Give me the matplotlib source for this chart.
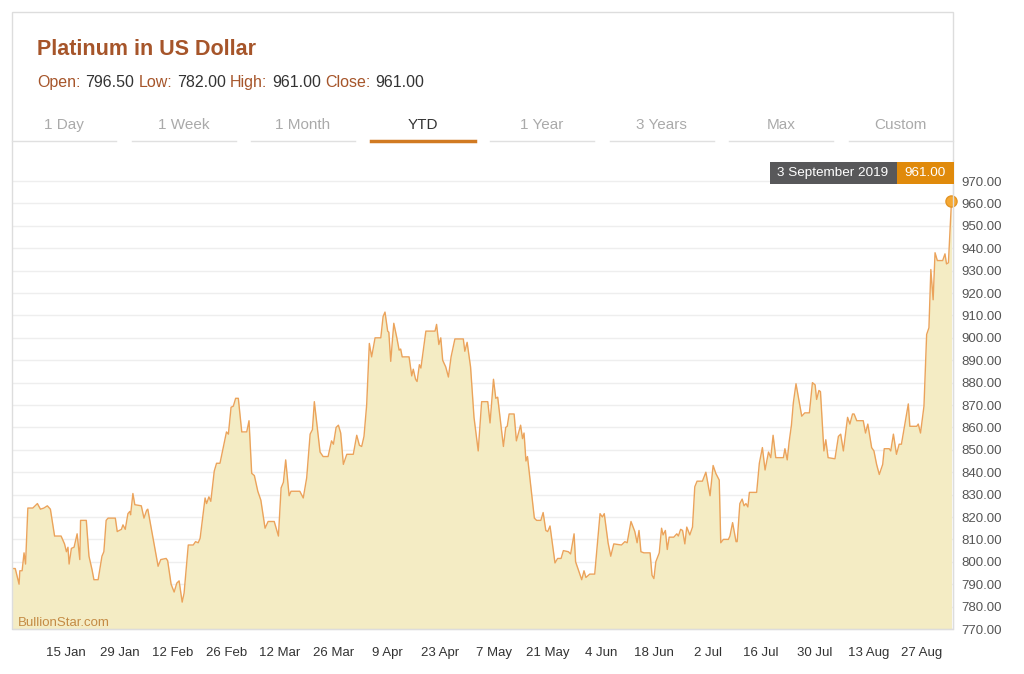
import matplotlib
matplotlib.use("Agg")
import matplotlib.pyplot as plt
import matplotlib.dates as mdates
from matplotlib.patches import Rectangle
from matplotlib.lines import Line2D
import numpy as np
import pandas as pd
from datetime import datetime

plt.rcParams['font.family'] = ['Liberation Sans', 'DejaVu Sans']

W, H = 1024, 674

def fx(x):
    return x / W

def fy(y):
    return 1 - y / H

# days since 1 Jan 2019 (as placed on the chart) and platinum price, USD
days = [0.0, 0.7, 1.7, 1.9, 2.5, 3.0, 3.4, 4.0, 5.3, 6.5,
        7.3, 8.2, 9.1, 9.9, 11.0, 12.7, 13.6, 14.1, 14.5, 14.8,
        15.4, 16.1, 16.9, 17.6, 17.8, 19.3, 20.0, 20.8, 21.3, 22.4,
        23.4, 23.9, 24.5, 25.0, 26.9, 27.4, 28.5, 28.9, 29.5, 30.2,
        30.7, 30.9, 31.5, 32.0, 33.7, 34.4, 35.1, 35.4, 37.2, 38.1,
        38.8, 40.2, 40.6, 41.5, 42.3, 43.0, 43.6, 44.4, 44.9, 46.0,
        47.3, 47.9, 48.6, 49.1, 50.4, 50.8, 51.4, 51.9, 52.8, 53.4,
        54.3, 55.2, 56.0, 56.5, 57.2, 57.8, 58.4, 59.1, 60.0, 61.3,
        61.9, 62.6, 63.3, 64.2, 65.0, 66.1, 66.9, 68.5, 69.6, 70.3,
        70.9, 71.5, 72.4, 72.9, 75.2, 76.1, 77.0, 77.9, 78.5, 79.0,
        80.5, 81.3, 82.6, 83.5, 84.0, 84.7, 85.3, 85.9, 86.6, 87.5,
        89.2, 90.1, 90.8, 91.4, 92.0, 92.7, 93.4, 94.0, 94.9, 95.3,
        96.4, 97.0, 97.5, 98.2, 98.5, 99.0, 99.8, 100.6, 101.2, 101.6,
        102.0, 103.8, 104.5, 104.9, 105.5, 105.9, 106.5, 106.9, 108.2, 110.6,
        111.0, 111.6, 112.1, 112.6, 113.4, 114.1, 114.8, 115.8, 118.0, 118.4,
        119.0, 119.9, 120.8, 121.9, 122.8, 124.4, 125.0, 125.9, 126.5, 127.0,
        128.5, 129.1, 129.5, 130.0, 131.3, 131.9, 133.0, 133.5, 133.9, 134.4,
        134.8, 136.6, 137.2, 138.3, 138.9, 139.6, 140.1, 140.7, 142.0, 142.7,
        143.6, 144.2, 145.5, 146.1, 147.0, 147.4, 149.0, 149.6, 150.1, 151.1,
        152.4, 153.8, 154.4, 154.9, 155.9, 156.6, 157.4, 159.4, 160.3, 160.9,
        161.9, 162.9, 163.5, 164.0, 164.5, 165.3, 166.9, 167.4, 167.9, 168.4,
        169.3, 169.9, 170.3, 170.9, 171.4, 171.9, 173.1, 173.9, 174.3, 174.9,
        175.4, 176.0, 176.5, 177.3, 178.0, 178.6, 179.2, 180.6, 181.5, 182.6,
        183.4, 184.1, 185.0, 185.4, 186.1, 187.4, 187.8, 188.5, 189.4, 189.7,
        190.4, 191.0, 191.5, 192.0, 192.5, 192.9, 194.8, 195.5, 196.3, 197.0,
        197.9, 198.5, 199.1, 199.8, 201.8, 202.2, 202.8, 203.3, 203.9, 204.4,
        205.1, 206.6, 207.4, 208.6, 209.4, 210.1, 210.5, 211.1, 211.5, 212.4,
        212.9, 213.5, 215.3, 216.2, 216.8, 217.5, 218.6, 219.2, 219.9, 220.3,
        221.0, 222.7, 223.3, 223.9, 224.9, 225.5, 226.2, 226.9, 227.8, 228.2,
        229.5, 229.9, 230.6, 231.4, 232.1, 232.7, 233.6, 234.5, 234.9, 236.7,
        237.1, 237.7, 238.6, 239.3, 239.9, 240.4, 241.0, 241.5, 242.1, 243.5,
        244.1, 244.5, 245.0, 245.8]

prices = [797, 797, 790, 796, 796, 804, 799, 824, 824, 826,
          823.5, 824, 825, 823.5, 811.5, 811.5, 808, 804.5, 806.5, 799,
          806, 806.5, 812.5, 801, 818.5, 818.5, 802.5, 796.5, 792, 792,
          802.5, 804.5, 818.5, 819.5, 819.5, 813.5, 814.5, 816.5, 814.5, 821.5,
          822.5, 821, 830.5, 825.5, 825, 819.5, 823, 823.5, 806.5, 798,
          801, 801.5, 800.5, 790, 786.5, 790.5, 791.5, 782, 786, 807.5,
          807.5, 809, 808.5, 810.5, 828.5, 826, 829, 827, 840.5, 844,
          844, 851.5, 858, 857, 869, 869.5, 873, 873, 858, 858,
          863, 839.5, 838.5, 831.5, 827.5, 815, 818, 818, 811.5, 833,
          835.5, 845.5, 829.5, 831.5, 831.5, 828.5, 837.5, 857, 859, 871.5,
          849, 847, 847, 854, 852.5, 860, 861, 857.5, 843.5, 848,
          848, 856.5, 852, 851.5, 856, 870, 897.5, 891.5, 900, 900,
          900, 909.5, 911.5, 903, 902.5, 889.5, 906.5, 900, 894.5, 895,
          891.5, 891.5, 883, 886, 881.5, 880.5, 888, 886.5, 903, 903,
          906, 897, 900, 890, 887, 882.5, 891.5, 899.5, 899.5, 894,
          898, 887, 864.5, 849.5, 871.5, 871.5, 862, 881.5, 873, 873.5,
          851.5, 860, 860.5, 866, 866, 854, 861, 855, 857.5, 845,
          847, 819.5, 818.5, 818.5, 822, 814, 813.5, 816, 799.5, 801.5,
          801.5, 805, 804.5, 803.5, 812.5, 800, 792, 796, 793, 794.5,
          794.5, 821.5, 820, 821.5, 808.5, 802.5, 808, 807.5, 809, 808.5,
          818, 813.5, 808.5, 814, 804.5, 804, 804, 794, 792.5, 800,
          804, 815, 812, 814, 805.5, 811, 811, 812.5, 811.5, 814.5,
          814, 808, 815.5, 812, 815.5, 833.5, 836, 836, 840, 829.5,
          843, 839.5, 836.5, 808.5, 810, 810, 811.5, 817.5, 809, 809,
          826, 828, 825, 826, 824.5, 831, 831, 844, 851, 841,
          849, 846.5, 856.5, 846.5, 846.5, 850.5, 845.5, 853.5, 861, 871,
          879.5, 865, 866.5, 866.5, 880, 879, 872.5, 876.5, 876, 849.5,
          854.5, 846.5, 846, 856, 857, 849.5, 864.5, 861.5, 866, 866,
          863, 863, 857.5, 861.5, 851, 849.5, 843.5, 839, 843.5, 850.5,
          850.5, 849.5, 857, 848, 852.5, 852.5, 861.5, 870.5, 860.5, 860.5,
          861.5, 857.5, 869.5, 901.5, 904.5, 930.5, 917, 938, 934.5, 934.5,
          937.5, 933, 933.5, 961]

title = "Platinum in US Dollar"
ohlc_names = ["Open", "Low", "High", "Close"]
ohlc_values = [796.50, 782.00, 961.00, 961.00]
tabs = ["1 Day", "1 Week", "1 Month", "YTD", "1 Year", "3 Years", "Max", "Custom"]
active_tab = "YTD"
tick_dates = pd.date_range("2019-01-15", "2019-08-27", freq="14D")
y_ticks = np.arange(770, 971, 10)
last_label = "3 September 2019"
watermark = "BullionStar.com"

BROWN = '#A6552A'
fig = plt.figure(figsize=(W / 100, H / 100), dpi=100)

# card frame
fig.add_artist(Rectangle((fx(12), fy(629)), fx(953) - fx(12), (629 - 12) / H,
                         transform=fig.transFigure, fill=False, ec='#DDDDDD', lw=1))

ax = fig.add_axes([fx(12), fy(629), fx(953) - fx(12), (629 - 160) / H])
start = mdates.date2num(datetime(2019, 1, 1))
x = start + np.array(days)
y = np.array(prices)

ax.fill_between(x, y, 770, color='#F4ECC4', lw=0, zorder=2)
ax.plot(x, y, color='#EBA35B', lw=1.0, zorder=3)
ax.plot(x[-1], y[-1], 'o', ms=8, mfc='#F5A833', mec='#E39424', mew=1, zorder=4, clip_on=False)

ax.set_xlim(start - 0.15, start + 246.2)
ax.set_ylim(770, 979.4)
ax.set_yticks(y_ticks)
ax.set_yticklabels([f"{v:.2f}" for v in y_ticks])
ax.yaxis.tick_right()
ax.tick_params(axis='y', length=0, pad=6, labelsize=9.5, labelcolor='#555555')
ax.set_xticks(mdates.date2num(tick_dates))
ax.set_xticklabels([f"{d.day} {d:%b}" for d in tick_dates])
ax.tick_params(axis='x', length=0, pad=13, labelsize=9.5, labelcolor='#333333')
ax.grid(axis='y', color='#EEEEEE', lw=1)
ax.set_axisbelow(True)
ax.spines['top'].set_visible(False)
ax.spines['left'].set_visible(False)
ax.spines['right'].set_color('#CCCCCC')
ax.spines['bottom'].set_color('#CCCCCC')

ax.text(fx(18) - fx(12), 0, watermark, transform=ax.transAxes, fontsize=9.5,
        color='#C48B45', va='bottom', ha='left', zorder=5)

# title and OHLC line
fig.text(fx(37), fy(55), title, fontsize=15.5, fontweight='bold', color=BROWN, va='baseline')
renderer = fig.canvas.get_renderer()
xpos = 37
for name, val in zip(ohlc_names, ohlc_values):
    t = fig.text(fx(xpos), fy(87), name + ":", fontsize=11.5, color=BROWN, va='baseline')
    xpos = t.get_window_extent(renderer).x1 + 4.5
    t = fig.text(fx(xpos), fy(87), f"{val:.2f}", fontsize=11.5, color='#333333', va='baseline')
    xpos = t.get_window_extent(renderer).x1 + 4.5

# range tabs
for i, tab in enumerate(tabs):
    left = 12 + 119.5 * i
    active = tab == active_tab
    fig.text(fx(left + 52), fy(129), tab, fontsize=11, ha='center', va='baseline',
             color='#333333' if active else '#AAAAAA')
    fig.add_artist(Line2D([fx(left), fx(left + 104)], [fy(141), fy(141)],
                          transform=fig.transFigure,
                          color='#D17A22' if active else '#E0E0E0',
                          lw=2.5 if active else 1))

# last-point tooltip
fig.add_artist(Rectangle((fx(770), fy(184)), fx(896.5) - fx(770), 22.5 / H,
                         transform=fig.transFigure, color='#58585A', lw=0))
fig.add_artist(Rectangle((fx(896.5), fy(184)), fx(953.5) - fx(896.5), 22.5 / H,
                         transform=fig.transFigure, color='#E08A0B', lw=0))
fig.text(fx(833), fy(173), last_label, fontsize=9.7, color='white', ha='center', va='center')
fig.text(fx(925), fy(173), f"{prices[-1]:.2f}", fontsize=9.7, color='white', ha='center', va='center')

fig.savefig('out.png', dpi=100)
